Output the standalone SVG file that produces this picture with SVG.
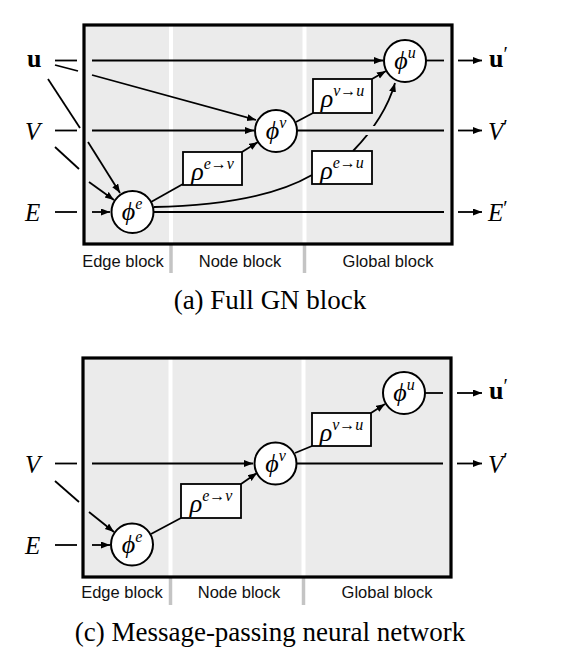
<svg xmlns="http://www.w3.org/2000/svg" width="575" height="669" viewBox="0 0 575 669">
<defs>
<marker id="ah" markerWidth="10" markerHeight="8" refX="9" refY="3.5" orient="auto" markerUnits="userSpaceOnUse">
<path d="M0,0 L9,3.5 L0,7 z" fill="#000"/>
</marker>
<style>
.panel{fill:#ebebeb;stroke:none}
.frame{fill:none;stroke:#000;stroke-width:3.2}
.div{stroke:#fff;stroke-width:4}
.divb{stroke:#c4c4c4;stroke-width:3.5}
.ln{fill:none;stroke:#000;stroke-width:1.8}
.ar{fill:none;stroke:#000;stroke-width:1.8;marker-end:url(#ah)}
.node{fill:#fff;stroke:#000;stroke-width:2}
.box{fill:#fff;stroke:#000;stroke-width:1.8}
.m{font-family:"Liberation Serif","DejaVu Serif",serif;font-style:italic;font-size:26px;fill:#000}
.sup{font-size:16px}
.rho{font-family:"Liberation Serif","DejaVu Serif",serif;font-style:italic;font-size:26px;fill:#000}
.rsup{font-size:16px}
.var{font-family:"Liberation Serif","DejaVu Serif",serif;font-style:italic;font-size:25px;fill:#000}
.bold{font-family:"Liberation Serif","DejaVu Serif",serif;font-weight:bold;font-size:26px;fill:#000}
.blk{font-family:"Liberation Sans",Arial,sans-serif;font-size:16.5px;fill:#111}
.cap{font-family:"Liberation Serif","DejaVu Serif",serif;font-size:27px;fill:#000}
</style>
</defs>

<!-- ============ Panel (a) ============ -->
<g id="panel-a">
<rect class="panel" x="84" y="25" width="368" height="219"/>
<line class="div" x1="171" y1="25" x2="171" y2="244"/>
<line class="div" x1="304.5" y1="25" x2="304.5" y2="244"/>
<line class="divb" x1="171" y1="244" x2="171" y2="273"/>
<line class="divb" x1="304.5" y1="244" x2="304.5" y2="273"/>
<rect class="frame" x="84" y="25" width="368" height="219"/>
<text class="blk" x="123" y="267" text-anchor="middle">Edge block</text>
<text class="blk" x="240" y="267" text-anchor="middle">Node block</text>
<text class="blk" x="388" y="267" text-anchor="middle">Global block</text>
</g>

<g id="connectors-a">
<line class="ln" x1="55" y1="60.5" x2="77" y2="60.5"/>
<line class="ln" x1="55" y1="65" x2="78" y2="71"/>
<line class="ln" x1="48" y1="79" x2="80" y2="128"/>
<line class="ln" x1="55" y1="130.5" x2="77" y2="130.5"/>
<line class="ln" x1="55" y1="147" x2="79" y2="169"/>
<line class="ln" x1="55" y1="212" x2="77" y2="212"/>
<line class="ar" x1="92" y1="60.5" x2="383" y2="60.5"/>
<line class="ar" x1="92" y1="75" x2="256" y2="120"/>
<line class="ar" x1="92" y1="130.5" x2="254" y2="130.5"/>
<line class="ar" x1="88" y1="142" x2="120" y2="193"/>
<line class="ar" x1="89" y1="182" x2="114" y2="200"/>
<line class="ar" x1="92" y1="212" x2="110" y2="212"/>
<line class="ln" x1="151" y1="202" x2="183" y2="184"/>
<line class="ar" x1="242" y1="152" x2="258" y2="142"/>
<path class="ln" d="M154,207 Q260,205 312,175"/>
<line class="ln" x1="154" y1="212" x2="444" y2="212"/>
<line class="ln" x1="296" y1="122" x2="313" y2="113"/>
<line class="ar" x1="372" y1="79" x2="386" y2="71"/>
<path class="ar" d="M353,151 Q385,118 395,83"/>
<line stroke="#ebebeb" stroke-width="9" x1="361" y1="130.5" x2="379" y2="130.5"/>
<line class="ln" x1="297" y1="130.5" x2="444" y2="130.5"/>
<line class="ln" x1="426" y1="60.5" x2="444" y2="60.5"/>
<line class="ar" x1="458" y1="60.5" x2="482" y2="60.5"/>
<line class="ar" x1="458" y1="130.5" x2="482" y2="130.5"/>
<line class="ar" x1="458" y1="212" x2="482" y2="212"/>
</g>

<g id="in-u-a"><text class="bold" x="27" y="67">u</text></g>
<g id="in-V-a"><text class="var" x="25" y="140">V</text></g>
<g id="in-E-a"><text class="var" x="25" y="221">E</text></g>
<g id="out-u-a"><text class="bold" x="489" y="67">u<tspan font-weight="normal" font-size="20" dy="-6">′</tspan></text></g>
<g id="out-V-a"><text class="var" x="488" y="140">V<tspan font-style="normal" font-size="20" dy="-6">′</tspan></text></g>
<g id="out-E-a"><text class="var" x="488" y="221">E<tspan font-style="normal" font-size="20" dy="-6">′</tspan></text></g>

<g id="phi-e-a">
<circle class="node" cx="132.5" cy="212" r="21"/>
<text class="m" x="132" y="220" text-anchor="middle">ϕ<tspan class="sup" dy="-11">e</tspan></text>
</g>
<g id="phi-v-a">
<circle class="node" cx="276" cy="131" r="21"/>
<text class="m" x="276" y="139" text-anchor="middle">ϕ<tspan class="sup" dy="-11">v</tspan></text>
</g>
<g id="phi-u-a">
<circle class="node" cx="405" cy="61" r="21"/>
<text class="m" x="405" y="69" text-anchor="middle">ϕ<tspan class="sup" dy="-11">u</tspan></text>
</g>
<g id="rho-ev-a">
<rect class="box" x="183" y="152" width="59" height="33"/>
<text class="rho" x="212.5" y="180" text-anchor="middle">ρ<tspan class="rsup" dy="-11">e→v</tspan></text>
</g>
<g id="rho-vu-a">
<rect class="box" x="313" y="79" width="59" height="34"/>
<text class="rho" x="342.5" y="107" text-anchor="middle">ρ<tspan class="rsup" dy="-11">v→u</tspan></text>
</g>
<g id="rho-eu-a">
<rect class="box" x="312" y="151" width="60" height="33"/>
<text class="rho" x="342" y="179" text-anchor="middle">ρ<tspan class="rsup" dy="-11">e→u</tspan></text>
</g>
<text class="cap" x="270" y="309" text-anchor="middle">(a) Full GN block</text>

<!-- ============ Panel (c) ============ -->
<g id="panel-c">
<rect class="panel" x="83" y="358" width="368" height="219"/>
<line class="div" x1="170.5" y1="358" x2="170.5" y2="577"/>
<line class="div" x1="303.5" y1="358" x2="303.5" y2="577"/>
<line class="divb" x1="170.5" y1="577" x2="170.5" y2="605"/>
<line class="divb" x1="303.5" y1="577" x2="303.5" y2="605"/>
<rect class="frame" x="83" y="358" width="368" height="219"/>
<text class="blk" x="122" y="598" text-anchor="middle">Edge block</text>
<text class="blk" x="239" y="598" text-anchor="middle">Node block</text>
<text class="blk" x="387" y="598" text-anchor="middle">Global block</text>
</g>

<g id="connectors-c">
<line class="ln" x1="55" y1="463.5" x2="77" y2="463.5"/>
<line class="ln" x1="55" y1="481" x2="79" y2="502"/>
<line class="ln" x1="55" y1="545" x2="77" y2="545"/>
<line class="ar" x1="92" y1="463.5" x2="253" y2="463.5"/>
<line class="ar" x1="89" y1="512" x2="114" y2="532"/>
<line class="ar" x1="92" y1="545" x2="110" y2="545"/>
<line class="ln" x1="151" y1="534" x2="181" y2="518"/>
<line class="ar" x1="241" y1="484" x2="257" y2="473"/>
<line class="ln" x1="295" y1="453" x2="312" y2="446"/>
<line class="ar" x1="371" y1="413" x2="385" y2="404"/>
<line class="ln" x1="297" y1="463.5" x2="443" y2="463.5"/>
<line class="ln" x1="425" y1="393" x2="443" y2="393"/>
<line class="ar" x1="457" y1="393" x2="482" y2="393"/>
<line class="ar" x1="457" y1="463.5" x2="482" y2="463.5"/>
</g>

<g id="in-V-c"><text class="var" x="25" y="473">V</text></g>
<g id="in-E-c"><text class="var" x="25" y="554">E</text></g>
<g id="out-u-c"><text class="bold" x="489" y="399">u<tspan font-weight="normal" font-size="20" dy="-6">′</tspan></text></g>
<g id="out-V-c"><text class="var" x="488" y="473">V<tspan font-style="normal" font-size="20" dy="-6">′</tspan></text></g>

<g id="phi-e-c">
<circle class="node" cx="132" cy="544.5" r="21"/>
<text class="m" x="132" y="552.5" text-anchor="middle">ϕ<tspan class="sup" dy="-11">e</tspan></text>
</g>
<g id="phi-v-c">
<circle class="node" cx="275.5" cy="463.5" r="21"/>
<text class="m" x="275.5" y="471.5" text-anchor="middle">ϕ<tspan class="sup" dy="-11">v</tspan></text>
</g>
<g id="phi-u-c">
<circle class="node" cx="404" cy="393" r="21"/>
<text class="m" x="404" y="401" text-anchor="middle">ϕ<tspan class="sup" dy="-11">u</tspan></text>
</g>
<g id="rho-ev-c">
<rect class="box" x="181" y="484" width="60" height="34"/>
<text class="rho" x="211" y="512" text-anchor="middle">ρ<tspan class="rsup" dy="-11">e→v</tspan></text>
</g>
<g id="rho-vu-c">
<rect class="box" x="312" y="413" width="59" height="33"/>
<text class="rho" x="341.5" y="441" text-anchor="middle">ρ<tspan class="rsup" dy="-11">v→u</tspan></text>
</g>
<text class="cap" x="270" y="641" text-anchor="middle">(c) Message-passing neural network</text>
</svg>
